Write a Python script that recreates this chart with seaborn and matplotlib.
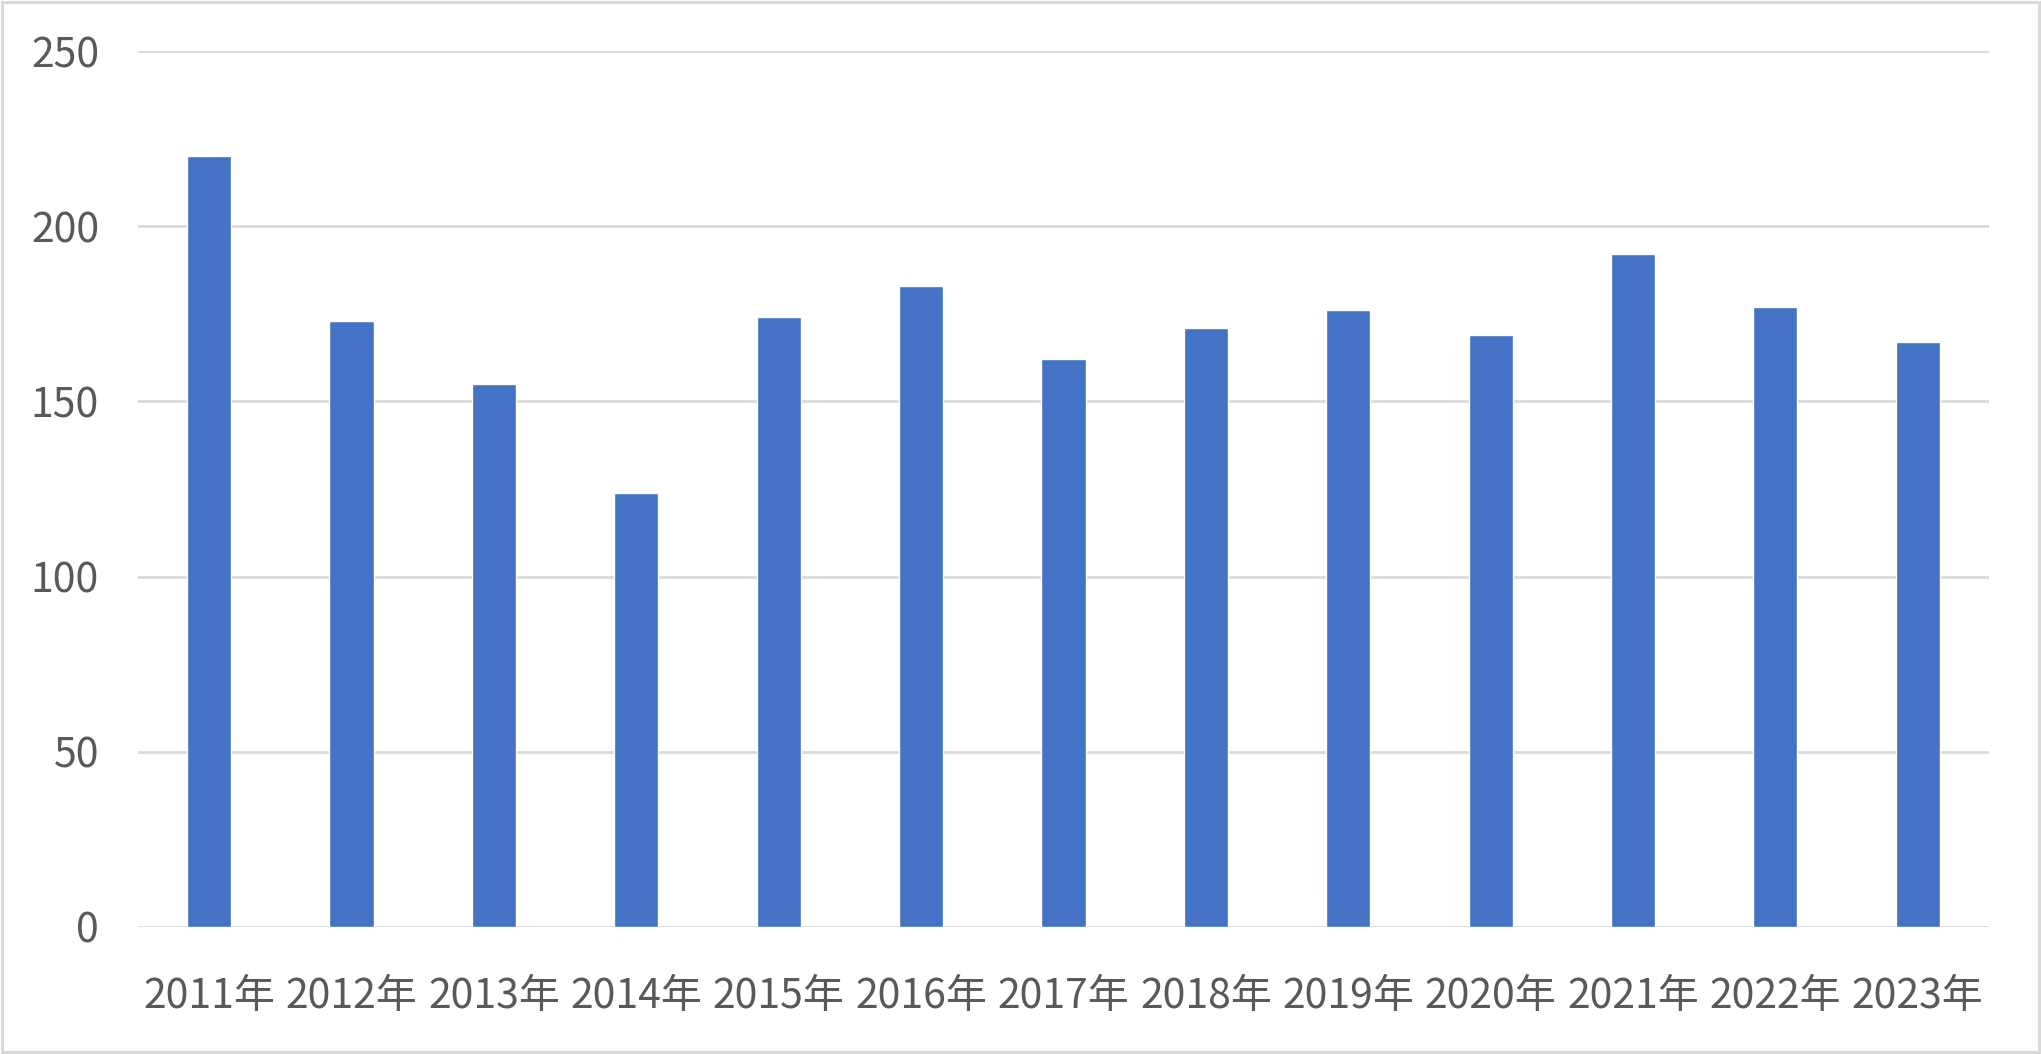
import matplotlib
matplotlib.use("Agg")
import matplotlib.pyplot as plt
import seaborn as sns
import pandas as pd
from matplotlib.patches import Rectangle

years = ["2011年", "2012年", "2013年", "2014年", "2015年", "2016年", "2017年",
         "2018年", "2019年", "2020年", "2021年", "2022年", "2023年"]
values = [220, 173, 155, 124, 174, 183, 162, 171, 176, 169, 192, 177, 167]
yticks = [0, 50, 100, 150, 200, 250]

sns.set_theme(style="white")
plt.rcParams['font.family'] = ['Noto Sans CJK SC', 'DejaVu Sans']

df = pd.DataFrame({"year": years, "value": values})

fig = plt.figure(figsize=(20.41, 10.54), dpi=100)
ax = fig.add_axes([0.0676, 0.1205, 0.9069, 0.8311])

sns.barplot(data=df, x="year", y="value", order=years, color="#4472C4",
            saturation=1, width=0.31, ax=ax, zorder=3)

ax.set_ylim(0, 250)
ax.set_xlim(-0.5, len(years) - 0.5)
ax.set_yticks(yticks)
ax.set_yticklabels([str(t) for t in yticks])
ax.yaxis.grid(True, color="#d9d9d9", linewidth=2.0, zorder=0)
ax.set_axisbelow(True)
for s in ax.spines.values():
    s.set_visible(False)
ax.tick_params(axis="both", length=0, labelsize=29.5, colors="#595959")
ax.tick_params(axis="y", pad=28)
ax.tick_params(axis="x", pad=35)
ax.set_xlabel("")
ax.set_ylabel("")

fig.patches.append(Rectangle((0.001, 0.0015), 0.998, 0.997, transform=fig.transFigure,
                             fill=False, edgecolor="#d9d9d9", linewidth=2.2))

fig.savefig("out.png", dpi=100, facecolor="white")
